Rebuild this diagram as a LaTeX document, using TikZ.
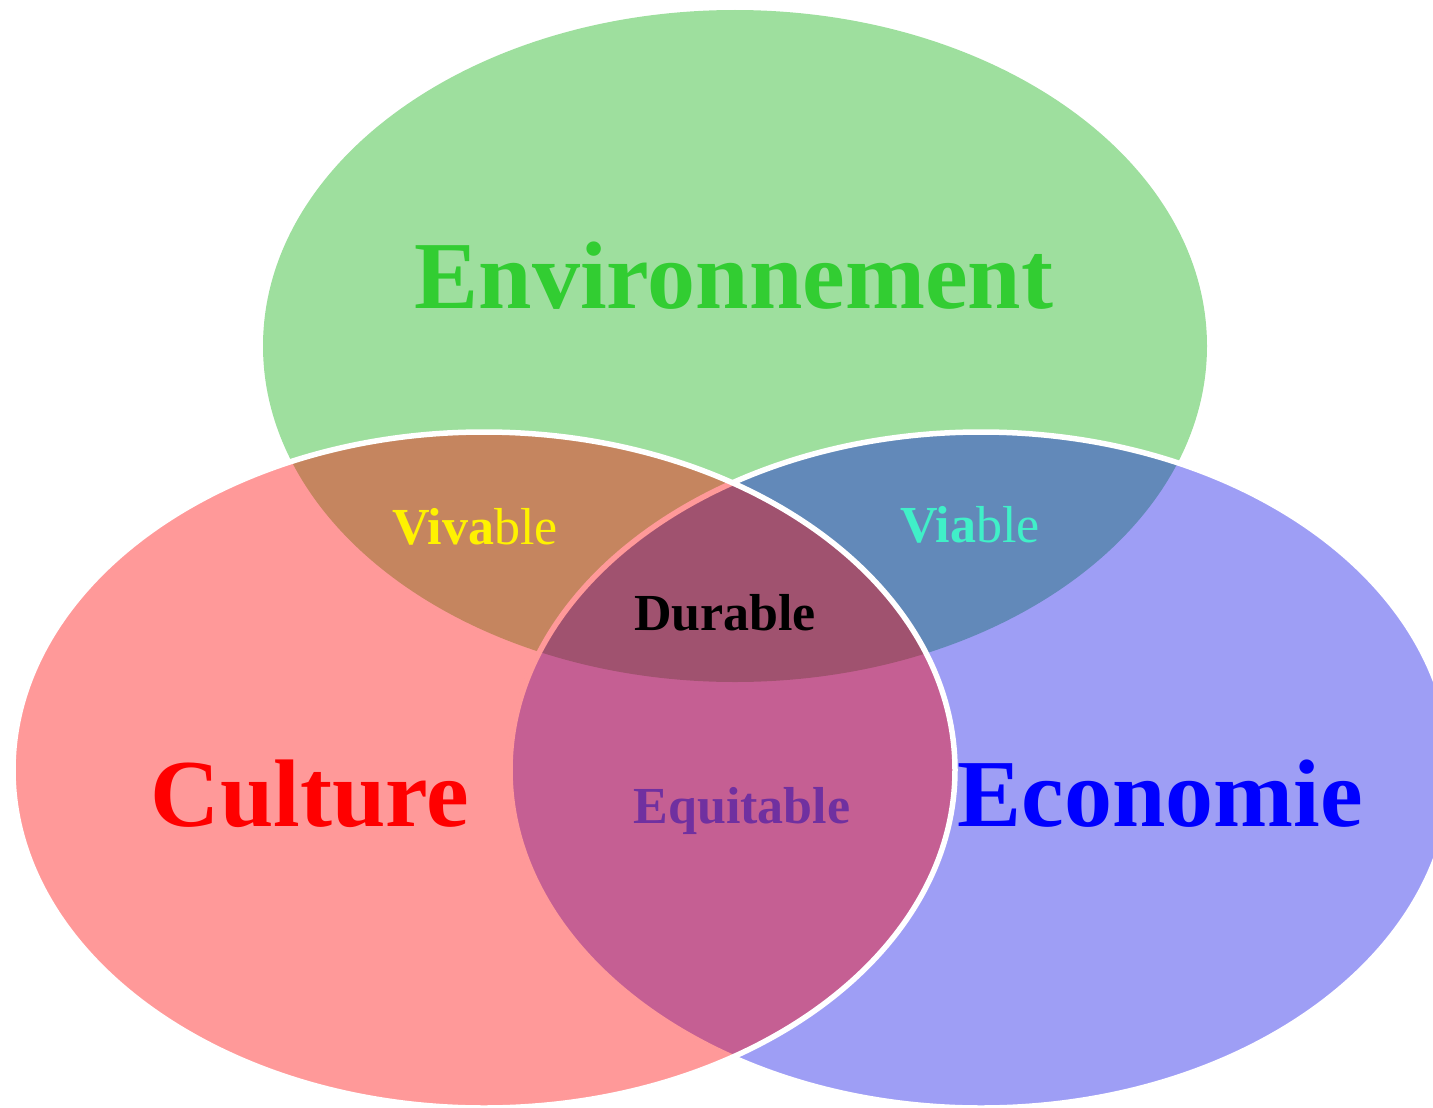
\documentclass[tikz,border=0pt]{standalone}
\usepackage{fontspec}
\setmainfont{Liberation Serif}
\definecolor{envgreen}{RGB}{0,170,0}
\definecolor{cultred}{RGB}{255,0,0}
\definecolor{ecoblue}{RGB}{0,0,230}
\definecolor{labgreen}{RGB}{50,205,50}
\definecolor{labturq}{RGB}{64,240,200}
\definecolor{labpurple}{RGB}{112,48,160}
\begin{document}
\begin{tikzpicture}[x=1pt,y=-1pt,
  ring/.style={draw=white,line width=5.5pt,draw opacity=1},
  bigtext/.style={font=\fontsize{96}{100}\selectfont\bfseries,anchor=base,inner sep=0pt},
  smalltext/.style={font=\fontsize{52}{56}\selectfont,anchor=base,inner sep=0pt}]
\useasboundingbox (0,0) rectangle (1433,1108);
\clip (0,0) rectangle (1433,1108);
% Environnement
\fill[envgreen,fill opacity=0.38] (735,346) ellipse [x radius=472, y radius=336];
% Economie
\fill[ecoblue,fill opacity=0.38] (981,770) ellipse [x radius=471, y radius=338];
\draw[ring] (981,770) ellipse [x radius=471, y radius=338];
% Culture
\fill[cultred,fill opacity=0.4] (484,770) ellipse [x radius=471, y radius=338];
\draw[ring] (484,770) ellipse [x radius=471, y radius=338];
% labels
\node[bigtext,text=labgreen] (env) at (734,308) {Environnement};
\node[bigtext,text=cultred] (cul) at (310,826) {Culture};
\node[bigtext,text=blue] (eco) at (1160,826) {Economie};
\node[smalltext,text=black] (dur) at (725,630) {\bfseries Durable};
\node[smalltext,text=yellow] (viv) at (475,544) {\textbf{Viva}ble};
\node[smalltext,text=labturq] (via) at (970,542) {\textbf{Via}ble};
\node[smalltext,text=labpurple] (equ) at (742,823) {\bfseries Equitable};
\end{tikzpicture}
\end{document}
